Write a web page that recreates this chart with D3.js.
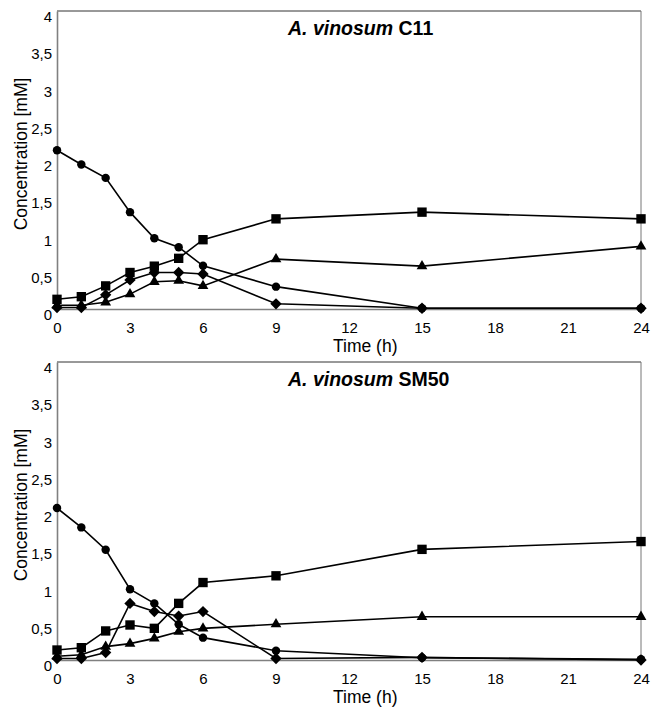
<!DOCTYPE html>
<html>
<head>
<meta charset="utf-8">
<script src="https://cdn.jsdelivr.net/npm/d3@7"></script>
<style>
  body { margin: 0; background: #fff; }
  text { font-family: "Liberation Sans", Arial, sans-serif; fill: #000; }
</style>
</head>
<body>
<div id="chart"></div>
<script>
// sampling times (h)
const hours = [0, 1, 2, 3, 4, 5, 6, 9, 15, 24];
const xTicks = [0, 3, 6, 9, 12, 15, 18, 21, 24];
const yTicks = [0, 0.5, 1, 1.5, 2, 2.5, 3, 3.5, 4];

// A. vinosum C11
const c11Circle   = [2.13, 1.94, 1.76, 1.30, 0.95, 0.83, 0.58, 0.30, 0.01, 0.01];
const c11Square   = [0.13, 0.165, 0.31, 0.49, 0.575, 0.68, 0.93, 1.21, 1.30, 1.21];
const c11Triangle = [0.05, 0.05, 0.09, 0.20, 0.365, 0.38, 0.31, 0.67, 0.575, 0.84];
const c11Diamond  = [0.02, 0.02, 0.19, 0.39, 0.49, 0.49, 0.47, 0.07, 0.01, 0.01];

// A. vinosum SM50
const sm50Circle   = [2.04, 1.78, 1.48, 0.95, 0.76, 0.48, 0.30, 0.125, 0.03, 0.01];
const sm50Square   = [0.134, 0.165, 0.39, 0.47, 0.425, 0.76, 1.04, 1.13, 1.485, 1.59];
const sm50Triangle = [0.05, 0.07, 0.18, 0.22, 0.29, 0.38, 0.425, 0.48, 0.58, 0.58];
const sm50Diamond  = [0.02, 0.02, 0.10, 0.76, 0.65, 0.59, 0.65, 0.02, 0.035, 0.0];

const panels = [
  { strain: 'C11', top: 11, bottom: 309,
    series: [['circle', c11Circle], ['square', c11Square], ['triangle', c11Triangle], ['diamond', c11Diamond]] },
  { strain: 'SM50', top: 362, bottom: 660,
    series: [['circle', sm50Circle], ['square', sm50Square], ['triangle', sm50Triangle], ['diamond', sm50Diamond]] }
];

const width = 652, height = 707;
const left = 57, right = 641;

const svg = d3.select('#chart').append('svg')
  .attr('width', width)
  .attr('height', height);

const x = d3.scaleLinear().domain([0, 24]).range([left, right]);

const symbols = {
  circle:   { type: d3.symbolCircle,   size: 56, rotate: 0 },
  square:   { type: d3.symbolSquare,   size: 88, rotate: 0 },
  triangle: { type: d3.symbolTriangle, size: 50, rotate: 0 },
  diamond:  { type: d3.symbolSquare,   size: 64, rotate: 45 }
};

panels.forEach(p => {
  const y = d3.scaleLinear().domain([0, 4]).range([p.bottom, p.top]);
  const g = svg.append('g');

  // frame
  g.append('line').attr('x1', left).attr('x2', right).attr('y1', p.top).attr('y2', p.top)
    .attr('stroke', '#333').attr('stroke-width', 1);
  g.append('line').attr('x1', right).attr('x2', right).attr('y1', p.top).attr('y2', p.bottom)
    .attr('stroke', '#777').attr('stroke-width', 1);

  // axes, Excel style: no tick marks
  const yAxis = g.append('g')
    .attr('transform', `translate(${left},0)`)
    .call(d3.axisLeft(y).tickValues(yTicks).tickSize(0).tickPadding(5)
      .tickFormat(d => String(d).replace('.', ',')));
  const xAxis = g.append('g')
    .attr('transform', `translate(0,${p.bottom})`)
    .call(d3.axisBottom(x).tickValues(xTicks).tickSize(0).tickPadding(13));

  [yAxis, xAxis].forEach(a => {
    a.select('.domain').attr('stroke', '#808080').attr('stroke-width', 1.6);
    a.selectAll('text').style('font-size', '15px').style('font-family', '"Liberation Sans", Arial, sans-serif');
  });
  // labels sit a little below their gridline, as in the original
  yAxis.selectAll('text').attr('dy', '0.7em').attr('y', 0);

  g.append('text')
    .attr('transform', `translate(27,${(p.top + p.bottom) / 2 - 6}) rotate(-90)`)
    .attr('text-anchor', 'middle')
    .style('font-size', '17.5px')
    .text('Concentration [mM]');

  g.append('text')
    .attr('x', 333)
    .attr('y', p.bottom + 43)
    .style('font-size', '17.5px')
    .text('Time (h)');

  const title = g.append('text')
    .attr('x', 288)
    .attr('y', p.top + 24)
    .style('font-size', '19.5px')
    .style('font-weight', 'bold');
  title.append('tspan').style('font-style', 'italic').text('A. vinosum');
  title.append('tspan').text(' ' + p.strain);

  const line = d3.line()
    .x((d, i) => x(hours[i]))
    .y(d => y(d));

  p.series.forEach(([shape, values]) => {
    g.append('path')
      .datum(values)
      .attr('fill', 'none')
      .attr('stroke', '#000')
      .attr('stroke-width', 1.6)
      .attr('d', line);

    const s = symbols[shape];
    g.selectAll(null)
      .data(values)
      .enter()
      .append('path')
      .attr('transform', (d, i) => `translate(${x(hours[i])},${y(d)}) rotate(${s.rotate})`)
      .attr('d', d3.symbol().type(s.type).size(s.size))
      .attr('fill', '#000');
  });
});
</script>
</body>
</html>
